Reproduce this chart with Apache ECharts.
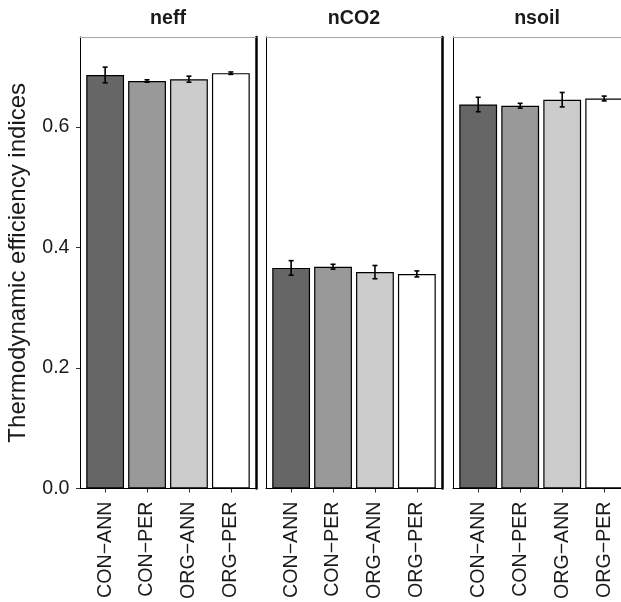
<!DOCTYPE html>
<html>
<head>
<meta charset="utf-8">
<script src="https://cdn.jsdelivr.net/npm/echarts@6/dist/echarts.min.js"></script>
<style>
  html, body { margin: 0; padding: 0; background: #fff; }
  #chart { width: 621px; height: 602px; }
</style>
</head>
<body>
<div id="chart"></div>
<script>
// Treatment groups along each facet's x axis
const categories = ['CON−ANN', 'CON−PER', 'ORG−ANN', 'ORG−PER'];
// Facet titles
const panels = ['neff', 'nCO2', 'nsoil'];

// Means and standard errors per facet
const neffMean = [0.686, 0.676, 0.679, 0.689];
const neffErr = [0.013, 0.002, 0.005, 0.002];
const nco2Mean = [0.366, 0.368, 0.359, 0.356];
const nco2Err = [0.012, 0.004, 0.011, 0.005];
const nsoilMean = [0.637, 0.635, 0.645, 0.647];
const nsoilErr = [0.012, 0.004, 0.012, 0.004];

// Y axis tick labels
const yTicks = [0, 0.2, 0.4, 0.6];

// Bar fill per treatment
const fills = ['#666666', '#999999', '#cccccc', '#ffffff'];

const means = [neffMean, nco2Mean, nsoilMean];
const errs = [neffErr, nco2Err, nsoilErr];

const FONT = 'Liberation Sans, Arial, Helvetica, sans-serif';
const TEXT = '#1a1a1a';
const Y_MAX = 0.749;
// facet frames; the last one runs past the right edge of the canvas
const panelLeft = [80, 266, 453];
const panelRight = [365, 179, 0];
const xMax = [4.6, 4.6, 4.4];

const grids = [], xAxes = [], yAxes = [], series = [];

panels.forEach((name, p) => {
  grids.push({ left: panelLeft[p], right: panelRight[p], top: 37, bottom: 112, show: false });
  const catPos = categories.map((c, i) => i + 1);
  // bottom axis with the treatment labels
  xAxes.push({
    gridIndex: p, type: 'value', position: 'bottom', min: 0.4, max: xMax[p],
    axisLine: { show: true, onZero: false, lineStyle: { color: '#000', width: 1 } },
    axisTick: { show: true, customValues: catPos, length: 4, lineStyle: { color: '#333', width: 1 } },
    axisLabel: {
      show: true, customValues: catPos, rotate: 90, margin: 13,
      fontFamily: FONT, fontSize: 19.6, color: TEXT,
      formatter: v => categories[Math.round(v) - 1] || ''
    },
    splitLine: { show: false }
  });
  // top axis: thin frame line and the facet title
  xAxes.push({
    gridIndex: p, type: 'value', position: 'top', min: 0.4, max: xMax[p],
    axisLine: { show: true, onZero: false, lineStyle: { color: '#a6a6a6', width: 1 } },
    axisTick: { show: false }, axisLabel: { show: false }, splitLine: { show: false },
    name: name, nameLocation: 'middle', nameGap: 8,
    nameTextStyle: { fontFamily: FONT, fontSize: 19.6, fontWeight: 'bold', color: TEXT }
  });
  // left value axis
  yAxes.push({
    gridIndex: p, type: 'value', position: 'left', min: 0, max: Y_MAX,
    axisLine: { show: true, onZero: false, lineStyle: { color: '#000', width: 1 } },
    axisTick: { show: p === 0, customValues: yTicks, length: 4, lineStyle: { color: '#333' } },
    axisLabel: {
      show: p === 0, customValues: yTicks, margin: 10.5,
      fontFamily: FONT, fontSize: 19.6, color: TEXT,
      formatter: v => v.toFixed(1)
    },
    splitLine: { show: false },
    name: p === 0 ? 'Thermodynamic efficiency indices' : '',
    nameLocation: 'middle', nameGap: 50, nameRotate: 90,
    nameTextStyle: { fontFamily: FONT, fontSize: 24, color: TEXT }
  });
  // right edge of the facet frame
  yAxes.push({
    gridIndex: p, type: 'value', position: 'right', min: 0, max: Y_MAX,
    axisLine: { show: p < 2, onZero: false, lineStyle: { color: '#000', width: 2.5 } },
    axisTick: { show: false }, axisLabel: { show: false }, splitLine: { show: false }
  });

  series.push({
    type: 'bar', xAxisIndex: 2 * p, yAxisIndex: 2 * p,
    barWidth: 37.8,
    data: means[p].map((v, i) => ({
      value: [i + 1, v],
      itemStyle: { color: fills[i], borderColor: '#000', borderWidth: 1.2 }
    })),
    animation: false
  });

  series.push({
    type: 'custom', xAxisIndex: 2 * p, yAxisIndex: 2 * p,
    data: means[p].map((v, i) => [i + 1, v - errs[p][i], v + errs[p][i]]),
    renderItem: (params, api) => {
      const x = api.value(0);
      const top = api.coord([x, api.value(2)]);
      const bot = api.coord([x, api.value(1)]);
      const hw = 2.5;
      const st = { stroke: '#000', lineWidth: 1.6 };
      return {
        type: 'group',
        children: [
          { type: 'line', shape: { x1: top[0], y1: top[1], x2: bot[0], y2: bot[1] }, style: st },
          { type: 'line', shape: { x1: top[0] - hw, y1: top[1], x2: top[0] + hw, y2: top[1] }, style: st },
          { type: 'line', shape: { x1: bot[0] - hw, y1: bot[1], x2: bot[0] + hw, y2: bot[1] }, style: st }
        ]
      };
    },
    z: 5,
    animation: false
  });
});

const chart = echarts.init(document.getElementById('chart'), null, { renderer: 'canvas' });
chart.setOption({
  backgroundColor: '#ffffff',
  animation: false,
  grid: grids,
  xAxis: xAxes,
  yAxis: yAxes,
  series: series
});
</script>
</body>
</html>
